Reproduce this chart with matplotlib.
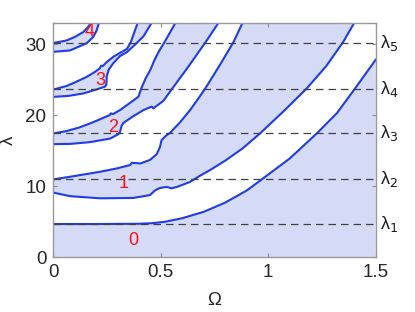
import matplotlib
matplotlib.use('Agg')
import matplotlib.pyplot as plt
from matplotlib.transforms import blended_transform_factory

plt.rcParams['font.family'] = ['Liberation Sans', 'DejaVu Sans']
plt.rcParams['mathtext.fontset'] = 'dejavusans'

# ---- data ----
# band 0 upper boundary
omega_A = [0, 0.2, 0.4, 0.46, 0.52, 0.6, 0.7, 0.8, 0.9, 0.97, 1.1, 1.226, 1.32, 1.404, 1.5]
lam_A = [4.68, 4.68, 4.72, 4.8, 5.0, 5.5, 6.4, 7.7, 9.4, 10.96, 13.9, 17.43, 20.3, 23.75, 27.8]
# band 1 lower / upper boundaries
omega_B = [0, 0.078, 0.217, 0.372, 0.45, 0.473, 0.496, 0.528, 0.551, 0.58, 0.636, 0.684, 0.731,
           0.80, 0.88, 0.962, 1.07, 1.179, 1.27, 1.349, 1.412]
lam_B = [9.1, 8.6, 8.3, 8.35, 8.75, 9.4, 9.75, 9.9, 9.7, 9.95, 10.6, 11.5, 12.3,
         13.6, 15.3, 17.43, 20.5, 23.75, 26.9, 30.3, 33.6]
omega_C = [0, 0.078, 0.217, 0.295, 0.357, 0.366, 0.385, 0.405, 0.45, 0.481, 0.496, 0.504,
           0.524, 0.543, 0.59, 0.636, 0.667, 0.706, 0.776, 0.838, 0.89]
lam_C = [10.96, 11.33, 12.03, 12.5, 12.97, 13.3, 13.25, 13.2, 13.7, 14.5, 15.5, 16.5,
         17.1, 17.5, 19.0, 20.7, 22.0, 23.7, 27.1, 30.26, 33.6]
# band 2 lower / upper boundaries
omega_R = [0, 0.078, 0.171, 0.264, 0.302, 0.31, 0.318, 0.326, 0.37, 0.419, 0.458, 0.465,
           0.512, 0.56, 0.628, 0.714, 0.782]
lam_R = [15.92, 15.95, 16.2, 16.7, 17.3, 17.6, 18.5, 18.9, 19.8, 20.7, 21.2, 20.95,
         22.0, 24.0, 26.8, 30.5, 33.6]
omega_Q = [0, 0.06, 0.12, 0.171, 0.22, 0.262, 0.268, 0.278, 0.31, 0.342, 0.372, 0.396,
           0.41, 0.43, 0.445, 0.452, 0.47, 0.49, 0.52, 0.58]
lam_Q = [17.43, 17.75, 18.25, 18.83, 19.45, 20.0, 20.25, 20.15, 20.7, 21.4, 22.05, 22.6,
         23.8, 25.2, 26.0, 26.4, 27.7, 28.9, 30.4, 33.6]
# band 3 lower / upper boundaries
omega_P = [0, 0.07, 0.14, 0.2, 0.24, 0.247, 0.249, 0.258, 0.279, 0.31, 0.342, 0.38, 0.42, 0.47]
lam_P = [22.57, 22.7, 23.05, 23.6, 24.0, 24.3, 25.5, 26.4, 27.3, 28.3, 28.85, 29.9, 31.1, 33.6]
omega_T = [0, 0.062, 0.1, 0.15, 0.19, 0.217, 0.222, 0.23, 0.25, 0.279, 0.31, 0.342, 0.36,
           0.375, 0.393, 0.4]
lam_T = [23.6, 24.1, 24.6, 25.3, 26.0, 26.6, 26.95, 26.9, 27.5, 28.2, 28.75, 29.3, 30.2,
         31.5, 33.0, 33.6]
# band 4 lower / upper boundaries
omega_U = [0, 0.078, 0.155, 0.186, 0.2, 0.209, 0.216]
lam_U = [28.9, 29.1, 30.1, 31.0, 31.8, 32.6, 33.6]
omega_V = [0, 0.062, 0.1, 0.14, 0.165, 0.185]
lam_V = [30.15, 30.5, 31.0, 31.7, 32.5, 33.6]

eig_values = [4.68, 10.96, 17.43, 23.70, 30.2]
eig_labels = ['λ$_1$', 'λ$_2$', 'λ$_3$', 'λ$_4$', 'λ$_5$']

band_labels = ['0', '1', '2', '3', '4']
band_label_omega = [0.371, 0.326, 0.279, 0.217, 0.168]
band_label_lambda = [2.33, 10.4, 18.2, 24.9, 31.7]

x_ticks = [0, 0.5, 1, 1.5]
x_ticklabels = ['0', '0.5', '1', '1.5']
y_ticks = [0, 10, 20, 30]
y_ticklabels = ['0', '10', '20', '30']

# ---- plotting ----
fill_color = '#D5DAF6'
line_color = '#1E3CE8'

fig = plt.figure(figsize=(4.15, 3.12), dpi=100)
ax = fig.add_axes([0.1284, 0.1753, 0.7769, 0.7519])
ax.set_xlim(0, 1.5)
ax.set_ylim(0, 33)

# band 0
ax.fill(omega_A + [1.5, 0], lam_A + [0, 0], color=fill_color, lw=0, zorder=1)
# bands 1-4
bands = [(omega_B, lam_B, omega_C, lam_C),
         (omega_R, lam_R, omega_Q, lam_Q),
         (omega_P, lam_P, omega_T, lam_T),
         (omega_U, lam_U, omega_V, lam_V)]
for lo_x, lo_y, up_x, up_y in bands:
    ax.fill(lo_x + up_x[::-1], lo_y + up_y[::-1], color=fill_color, lw=0, zorder=1)

for cx, cy in [(omega_A, lam_A), (omega_B, lam_B), (omega_C, lam_C), (omega_R, lam_R),
               (omega_Q, lam_Q), (omega_P, lam_P), (omega_T, lam_T), (omega_U, lam_U),
               (omega_V, lam_V)]:
    ax.plot(cx, cy, color=line_color, lw=1.5, zorder=2, solid_joinstyle='round')

for v in eig_values:
    ax.axhline(v, color='0.25', lw=0.9, dashes=(6, 4), zorder=3)

trans = blended_transform_factory(ax.transAxes, ax.transData)
for v, lab in zip(eig_values, eig_labels):
    ax.text(1.012, v, lab, transform=trans, ha='left', va='center', fontsize=13,
            color='0.1', clip_on=False)

for s, ox, ly in zip(band_labels, band_label_omega, band_label_lambda):
    ax.text(ox, ly, s, color='#FF1010', fontsize=13, ha='center', va='center', zorder=4)

ax.set_xticks(x_ticks)
ax.set_xticklabels(x_ticklabels)
ax.set_yticks(y_ticks)
ax.set_yticklabels(y_ticklabels)
ax.tick_params(direction='in', length=3, top=True, right=True, color='0.55',
               labelcolor='0.15', labelsize=13.5, pad=5)
for sp in ax.spines.values():
    sp.set_color('0.6')
    sp.set_linewidth(1.0)
    sp.set_zorder(5)

ax.set_xlabel('Ω', fontsize=13.5, color='0.15', labelpad=8)
ax.set_ylabel('λ', fontsize=13.5, color='0.15', labelpad=6)

fig.savefig('out.png', dpi=100)
